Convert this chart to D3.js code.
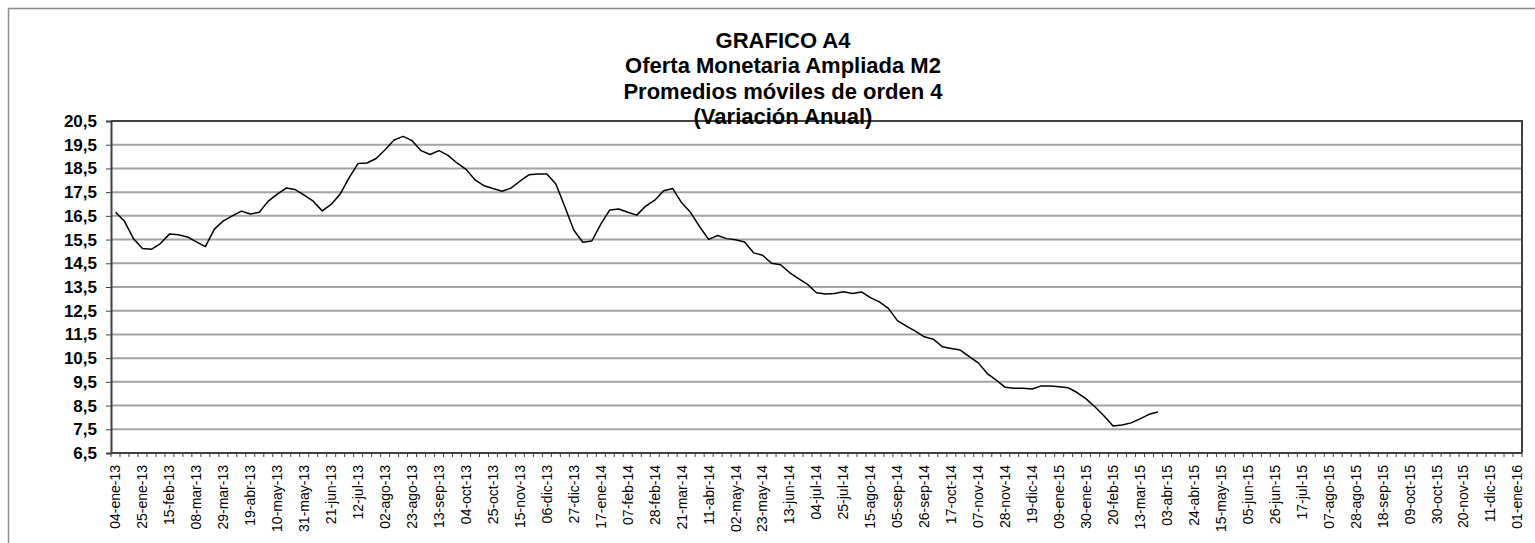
<!DOCTYPE html>
<html>
<head>
<meta charset="utf-8">
<script src="https://cdn.jsdelivr.net/npm/d3@7"></script>
<style>
  body { margin: 0; background: #fff; }
  svg { display: block; font-family: Arial, "Liberation Sans", sans-serif; }
</style>
</head>
<body>
<div id="chart"></div>
<script>
// weekly moving average, 04-ene-13 .. 27-mar-15
var m2_values = [
  16.65, 16.27, 15.54, 15.12, 15.09, 15.33, 15.73, 15.70, 15.61, 15.40,
  15.20, 15.94, 16.29, 16.50, 16.70, 16.58, 16.65, 17.12, 17.42, 17.67,
  17.61, 17.37, 17.12, 16.71, 16.98, 17.42, 18.11, 18.71, 18.73, 18.92,
  19.29, 19.70, 19.85, 19.67, 19.25, 19.09, 19.25, 19.05, 18.73, 18.46,
  18.02, 17.77, 17.65, 17.54, 17.67, 17.96, 18.23, 18.27, 18.27, 17.84,
  16.88, 15.89, 15.39, 15.44, 16.15, 16.75, 16.79, 16.65, 16.53, 16.91,
  17.16, 17.56, 17.65, 17.05, 16.64, 16.04, 15.51, 15.67, 15.54, 15.49,
  15.40, 14.94, 14.84, 14.50, 14.44, 14.11, 13.85, 13.61, 13.26, 13.20,
  13.23, 13.30, 13.23, 13.29, 13.05, 12.87, 12.60, 12.08, 11.85, 11.64,
  11.40, 11.30, 10.98, 10.91, 10.84, 10.56, 10.30, 9.85, 9.57, 9.27,
  9.23, 9.23, 9.20, 9.33, 9.33, 9.29, 9.25, 9.05, 8.78, 8.44,
  8.06, 7.64, 7.68, 7.77, 7.94, 8.13, 8.23
];

// one label every third week
var tick_labels = [
  '04-ene-13', '25-ene-13', '15-feb-13', '08-mar-13', '29-mar-13', '19-abr-13',
  '10-may-13', '31-may-13', '21-jun-13', '12-jul-13', '02-ago-13', '23-ago-13',
  '13-sep-13', '04-oct-13', '25-oct-13', '15-nov-13', '06-dic-13', '27-dic-13',
  '17-ene-14', '07-feb-14', '28-feb-14', '21-mar-14', '11-abr-14', '02-may-14',
  '23-may-14', '13-jun-14', '04-jul-14', '25-jul-14', '15-ago-14', '05-sep-14',
  '26-sep-14', '17-oct-14', '07-nov-14', '28-nov-14', '19-dic-14', '09-ene-15',
  '30-ene-15', '20-feb-15', '13-mar-15', '03-abr-15', '24-abr-15', '15-may-15',
  '05-jun-15', '26-jun-15', '17-jul-15', '07-ago-15', '28-ago-15', '18-sep-15',
  '09-oct-15', '30-oct-15', '20-nov-15', '11-dic-15', '01-ene-16'
];

var y_ticks = [6.5, 7.5, 8.5, 9.5, 10.5, 11.5, 12.5, 13.5, 14.5, 15.5, 16.5, 17.5, 18.5, 19.5, 20.5];

var title_lines = [
  'GRAFICO A4',
  'Oferta Monetaria Ampliada M2',
  'Promedios móviles de orden 4',
  '(Variación Anual)'
];

var width = 1535;
var height = 543;
var plot_left = 111;
var plot_right = 1522;
var plot_top = 121;
var plot_bottom = 453;
var label_step = 3;

var n_weeks = (tick_labels.length - 1) * label_step + 1;
var categories = d3.range(n_weeks);

var svg = d3.select('#chart').append('svg')
            .attr('width', width)
            .attr('height', height);

// outer chart frame
svg.append('rect')
   .attr('x', 8.5).attr('y', 8.5)
   .attr('width', width + 20).attr('height', height + 20)
   .attr('fill', 'none')
   .attr('stroke', '#8c8c8c')
   .attr('stroke-width', 1.5);

var x = d3.scaleBand()
          .domain(categories)
          .range([plot_left, plot_right])
          .paddingInner(0).paddingOuter(0);

var y = d3.scaleLinear()
          .domain([6.5, 20.5])
          .range([plot_bottom, plot_top]);

// gridlines
svg.append('g').selectAll('line')
   .data(y_ticks.slice(1, -1))
   .enter().append('line')
   .attr('x1', plot_left).attr('x2', plot_right)
   .attr('y1', function(d){return y(d);})
   .attr('y2', function(d){return y(d);})
   .attr('stroke', '#a3a3a3')
   .attr('stroke-width', 2);

// plot frame (top and right)
svg.append('path')
   .attr('d', 'M' + plot_left + ',' + y(20.5) + 'H' + plot_right + 'V' + plot_bottom)
   .attr('fill', 'none')
   .attr('stroke', '#404040')
   .attr('stroke-width', 2);

// y axis
var y_axis = d3.axisLeft(y)
               .tickValues(y_ticks)
               .tickSize(5)
               .tickPadding(9)
               .tickFormat(function(d){return d.toFixed(1).replace('.', ',');});

var gy = svg.append('g')
            .attr('transform', 'translate(' + plot_left + ',0)')
            .call(y_axis);
gy.select('.domain').attr('stroke', '#404040').attr('stroke-width', 2);
gy.selectAll('.tick line').attr('stroke', '#404040').attr('stroke-width', 1);
gy.selectAll('.tick text')
  .attr('fill', '#000')
  .style('font-size', '17px')
  .style('font-weight', 'bold')
  .style('font-family', 'Arial, "Liberation Sans", sans-serif');

// x axis: tick mark at each category boundary
var gx = svg.append('g')
            .attr('transform', 'translate(0,' + plot_bottom + ')');

gx.selectAll('line.boundary')
  .data(categories.concat([n_weeks]))
  .enter().append('line')
  .attr('class', 'boundary')
  .attr('x1', function(d){return d < n_weeks ? x(d) : plot_right;})
  .attr('x2', function(d){return d < n_weeks ? x(d) : plot_right;})
  .attr('y1', 0).attr('y2', 4)
  .attr('stroke', '#404040')
  .attr('stroke-width', 1);

gx.append('line')
  .attr('x1', plot_left).attr('x2', plot_right)
  .attr('y1', 0).attr('y2', 0)
  .attr('stroke', '#404040')
  .attr('stroke-width', 2);

gx.selectAll('text.cat')
  .data(tick_labels)
  .enter().append('text')
  .attr('class', 'cat')
  .attr('transform', function(d, i){
      var cx = x(i * label_step) + x.bandwidth() / 2;
      return 'translate(' + cx + ',12) rotate(-90)';
  })
  .attr('dy', '0.35em')
  .attr('text-anchor', 'end')
  .style('font-size', '14px')
  .attr('fill', '#000')
  .text(function(d){return d;});

// series line
var line = d3.line()
             .x(function(d, i){return x(i) + x.bandwidth() / 2;})
             .y(function(d){return y(d);});

svg.append('path')
   .datum(m2_values)
   .attr('d', line)
   .attr('fill', 'none')
   .attr('stroke', '#000')
   .attr('stroke-width', 1.5)
   .attr('stroke-linejoin', 'round');

// title
svg.append('g').selectAll('text')
   .data(title_lines)
   .enter().append('text')
   .attr('x', 783)
   .attr('y', function(d, i){return 48 + i * 25.3;})
   .attr('text-anchor', 'middle')
   .style('font-size', '22px')
   .style('font-weight', 'bold')
   .attr('fill', '#000')
   .text(function(d){return d;});
</script>
</body>
</html>
